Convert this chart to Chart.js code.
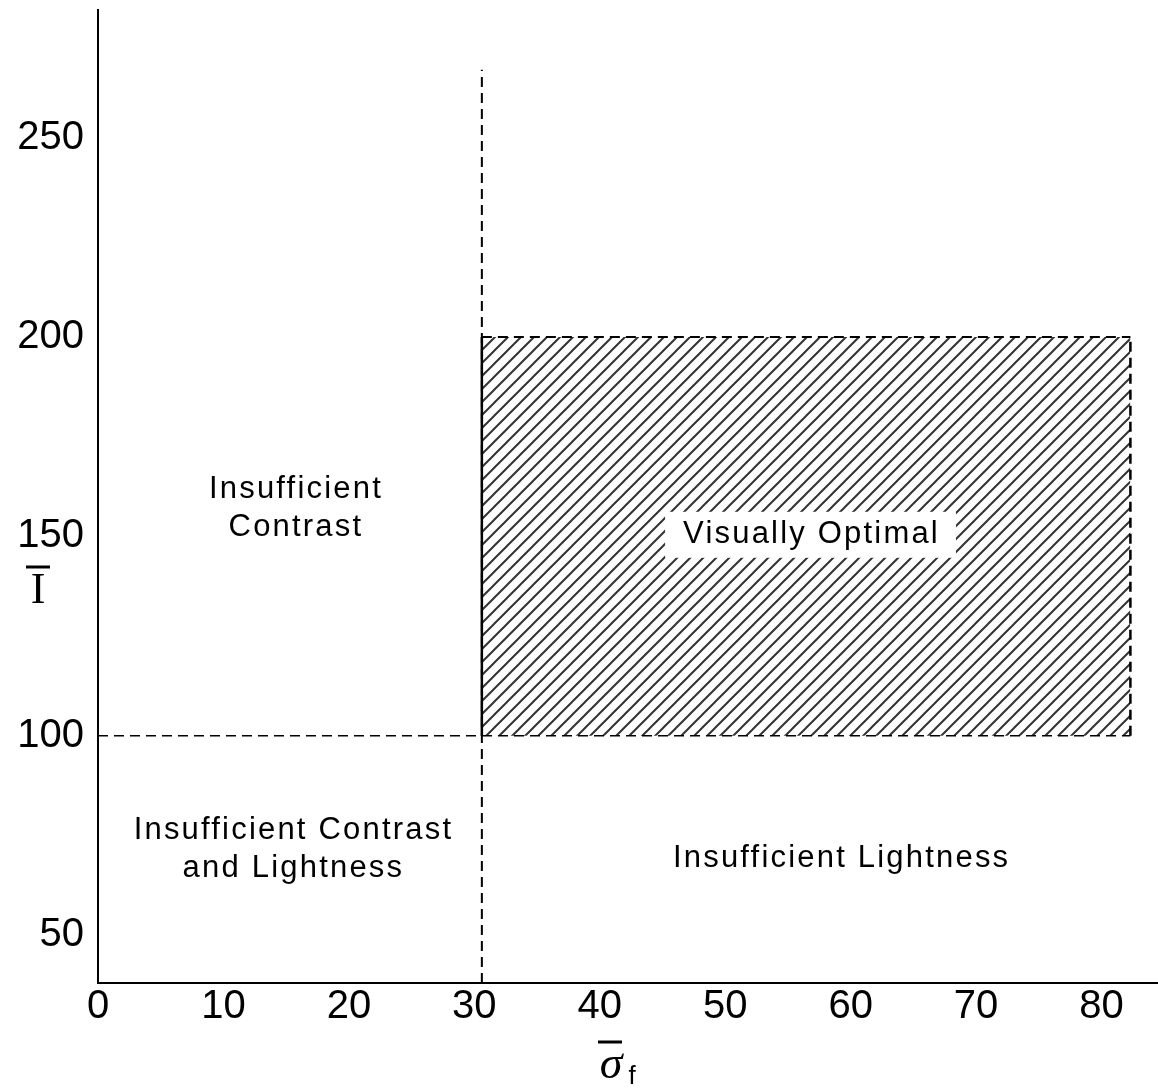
<!DOCTYPE html>
<html>
<head>
<meta charset="utf-8">
<script src="https://cdn.jsdelivr.net/npm/chart.js@4.4.1/dist/chart.umd.min.js"></script>
<style>
  html, body { margin: 0; padding: 0; background: #fff; }
  #wrap { width: 1158px; height: 1088px; }
</style>
</head>
<body>
<div id="wrap"><canvas id="chart"></canvas></div>
<script>
// axis ticks
const xTicks = [0, 10, 20, 30, 40, 50, 60, 70, 80];
const yTicks = [50, 100, 150, 200, 250];

// region boundaries
const sigmaSplit = 30.6;  // contrast threshold on sigma_f
const sigmaEnd = 82.3;    // right edge of the optimal box
const lightLow = 100;     // lightness threshold
const lightHigh = 200;    // top of the optimal box
const splitTop = 267;     // where the vertical dashed line stops

// region labels: text lines and their centre in data units
const noteText = [
    ['Insufficient', 'Contrast'],
    ['Insufficient Contrast', 'and Lightness'],
    ['Insufficient Lightness'],
    ['Visually Optimal']
];
const noteX = [15.7, 15.5, 59.2, 56.8];
const noteY = [157.1, 71.6, 69.3, 150.4];

const FONT = "'Liberation Sans', Arial, sans-serif";

// diagonal hatch for the optimal region
function makeHatch() {
    const size = 13;
    const c = document.createElement('canvas');
    c.width = size;
    c.height = size;
    const g = c.getContext('2d');
    g.strokeStyle = '#333';
    g.lineWidth = 2;
    g.beginPath();
    g.moveTo(-2, size + 2);
    g.lineTo(size + 2, -2);
    g.moveTo(-2, 2);
    g.lineTo(2, -2);
    g.moveTo(size - 2, size + 2);
    g.lineTo(size + 2, size - 2);
    g.stroke();
    return g.createPattern(c, 'repeat');
}

const dashed = { borderColor: '#000', borderWidth: 2, borderDash: [10, 6], pointRadius: 0, showLine: true, fill: false };

const notesPlugin = {
    id: 'notes',
    afterDatasetsDraw(chart) {
        const { ctx, scales } = chart;
        ctx.save();
        ctx.font = '31px ' + FONT;
        ctx.letterSpacing = '2.2px';
        ctx.fillStyle = '#000';
        ctx.textAlign = 'center';
        ctx.textBaseline = 'middle';
        noteText.forEach((lines, i) => {
            const cx = scales.x.getPixelForValue(noteX[i]);
            const cy = scales.y.getPixelForValue(noteY[i]);
            const lh = 38;
            if (i === 3) {
                const w = ctx.measureText(lines[0]).width + 34;
                ctx.fillStyle = '#fff';
                ctx.fillRect(cx - w / 2, cy - 23, w, 46);
                ctx.fillStyle = '#000';
            }
            lines.forEach((t, j) => {
                ctx.fillText(t, cx + 1, cy + (j - (lines.length - 1) / 2) * lh);
            });
        });
        ctx.restore();
    },
    afterDraw(chart) {
        const { ctx, chartArea } = chart;
        ctx.save();
        ctx.fillStyle = '#000';
        ctx.strokeStyle = '#000';
        ctx.textAlign = 'center';
        ctx.textBaseline = 'alphabetic';
        // y title: I with bar
        const yx = chartArea.left - 60;
        ctx.font = "44px 'Liberation Serif', serif";
        ctx.fillText('I', yx, 603);
        ctx.lineWidth = 3;
        ctx.beginPath();
        ctx.moveTo(yx - 12, 567);
        ctx.lineTo(yx + 12, 567);
        ctx.stroke();
        // x title: sigma with bar, subscript f
        ctx.font = "italic 46px 'Liberation Serif', serif";
        ctx.fillText('σ', 611, 1078);
        ctx.beginPath();
        ctx.moveTo(598, 1042);
        ctx.lineTo(622, 1042);
        ctx.stroke();
        ctx.font = "26px 'Liberation Sans', sans-serif";
        ctx.fillText('f', 632, 1084);
        ctx.restore();
    }
};

new Chart(document.getElementById('chart'), {
    type: 'scatter',
    data: {
        datasets: [
            {
                data: [{ x: sigmaSplit, y: lightHigh }, { x: sigmaEnd, y: lightHigh }],
                showLine: true, pointRadius: 0, borderWidth: 0, borderColor: 'transparent',
                backgroundColor: makeHatch(), fill: { value: lightLow }, order: 10
            },
            { ...dashed, data: [{ x: sigmaSplit, y: 38 }, { x: sigmaSplit, y: splitTop }] },
            { ...dashed, borderWidth: 1.6, data: [{ x: 0, y: lightLow }, { x: sigmaEnd, y: lightLow }] },
            { ...dashed, data: [{ x: sigmaSplit, y: lightHigh }, { x: sigmaEnd, y: lightHigh }] },
            { ...dashed, borderWidth: 2.5, data: [{ x: sigmaEnd, y: lightLow }, { x: sigmaEnd, y: lightHigh }] },
            { ...dashed, borderWidth: 2.5, borderDash: [], data: [{ x: sigmaSplit, y: lightLow }, { x: sigmaSplit, y: lightHigh }] }
        ]
    },
    options: {
        responsive: true,
        maintainAspectRatio: false,
        animation: false,
        layout: { padding: { top: 10, right: 0, left: 0, bottom: 0 } },
        plugins: { legend: { display: false }, tooltip: { enabled: false } },
        scales: {
            x: {
                type: 'linear',
                min: 0,
                max: 84.5,
                grid: { display: true, drawOnChartArea: false, drawTicks: false, color: 'transparent' },
                border: { display: true, color: '#000', width: 2 },
                ticks: { color: '#000', font: { family: FONT, size: 40 }, padding: 0, maxRotation: 0, autoSkip: false },
                afterBuildTicks: s => { s.ticks = xTicks.map(v => ({ value: v })); },
                afterFit: s => { s.height = 105; s.paddingLeft = 0; s.paddingRight = 0; }
            },
            y: {
                type: 'linear',
                min: 38,
                max: 282,
                grid: { display: true, drawOnChartArea: false, drawTicks: false, color: 'transparent' },
                border: { display: true, color: '#000', width: 2 },
                ticks: { color: '#000', font: { family: FONT, size: 40 }, padding: 14, autoSkip: false },
                afterBuildTicks: s => { s.ticks = yTicks.map(v => ({ value: v })); },
                afterFit: s => { s.width = 98; s.paddingTop = 0; s.paddingBottom = 0; }
            }
        }
    },
    plugins: [notesPlugin]
});
</script>
</body>
</html>
